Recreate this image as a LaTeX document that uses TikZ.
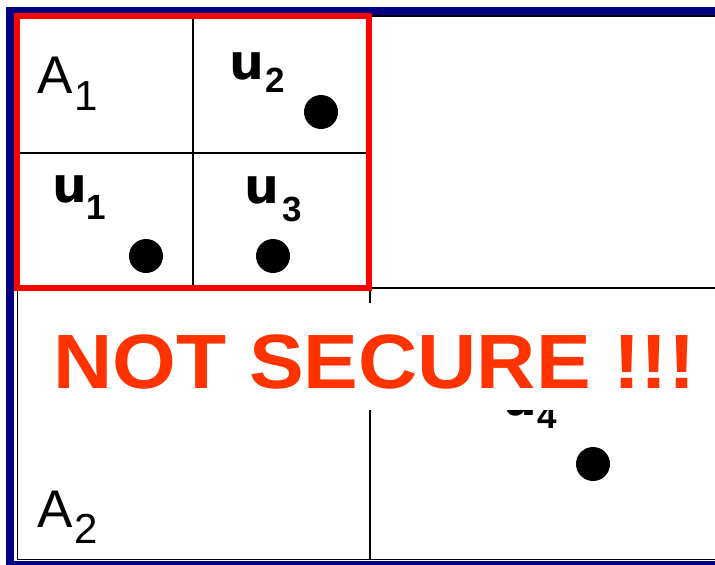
\documentclass[tikz,border=0pt]{standalone}
\usepackage{fontspec}
\setmainfont{Liberation Sans}
\newfontfamily\ufont{DejaVu Sans}
\newfontfamily\lbold{Liberation Sans Bold}
\definecolor{navyb}{RGB}{0,0,128}
\definecolor{warn}{RGB}{255,51,0}
\begin{document}
\begin{tikzpicture}[x=1pt,y=-1pt,
  lbl/.style={inner sep=0pt,anchor=base west},
  ubig/.style={lbl,font=\ufont\bfseries\fontsize{49}{49}\selectfont},
  usub/.style={lbl,font=\lbold\fontsize{35}{35}\selectfont},
  abig/.style={lbl,font=\fontsize{53}{53}\selectfont},
  asub/.style={lbl,font=\fontsize{42}{42}\selectfont},
  dot/.style={circle,fill=black,inner sep=0pt,minimum size=34pt},
  grid/.style={black,line width=2pt}]
\useasboundingbox (0,0) rectangle (715,565);
\clip (0,0) rectangle (715,565);
\fill[white] (0,0) rectangle (715,565);
% outer navy border
\draw[navyb,line width=8pt] (10,11) rectangle (760,565);
% inner black frame
\draw[black,line width=1.6pt] (17.5,16) rectangle (760,559.5);
% grid lines
\coordinate (tm) at (193,16);
\coordinate (cm) at (193,288);
\coordinate (ml) at (17,153);
\coordinate (mr) at (369,153);
\coordinate (hl) at (17,288);
\coordinate (hr) at (715,288);
\coordinate (vt) at (370,288);
\coordinate (vb) at (370,559);
\draw[grid] (tm) -- (cm);
\draw[grid] (ml) -- (mr);
\draw[grid] (hl) -- (hr);
\draw[grid] (vt) -- (vb);
% u4 (partly hidden)
\node[ubig] (u4) at (502,415) {u};
\node[usub] (s4) at (537,428) {4};
% red box
\draw[red,line width=6pt] (17,16) rectangle (369,288);
% labels
\node[abig] (a1) at (37,93) {A};
\node[asub] (a1s) at (74,110) {1};
\node[abig] (a2) at (37,527) {A};
\node[asub] (a2s) at (74,543) {2};
\node[ubig] (u2) at (229,79) {u};
\node[usub] (s2) at (265,92) {2};
\node[ubig] (u1) at (52,202) {u};
\node[usub] (s1) at (86,219) {1};
\node[ubig] (u3) at (244,203) {u};
\node[usub] (s3) at (282,221) {3};
% dots
\node[dot] (d2) at (321,112) {};
\node[dot] (d1) at (146,256) {};
\node[dot] (d3) at (273,256) {};
\node[dot] (d4) at (593,464) {};
% warning
\fill[white] (45,303) rectangle (705,410);
\node[inner sep=0pt,anchor=base,text=warn,font=\lbold\fontsize{77}{77}\selectfont] (warnt) at (374.5,388) {\scalebox{1.065}[1]{NOT SECURE !!!}};
\end{tikzpicture}
\end{document}
